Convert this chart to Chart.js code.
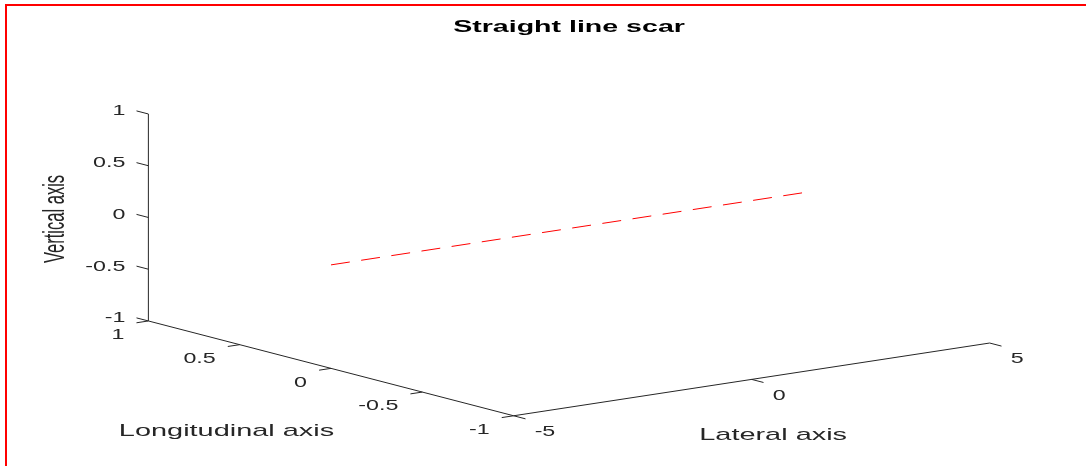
<!DOCTYPE html>
<html lang="en">
<head>
    <meta charset="UTF-8">
    <title>Straight line scar</title>
    <script src="https://cdn.jsdelivr.net/npm/chart.js"></script>
    <style>
        html, body {
            margin: 0;
            padding: 0;
            background: #ffffff;
            overflow: hidden;
        }

        .wrap {
            position: absolute;
            left: 0;
            top: 0;
            width: 1086px;
            height: 466px;
        }

        /* red frame, only left and top edges are visible */
        .frame {
            position: absolute;
            left: 5px;
            top: 4px;
            width: 1200px;
            height: 600px;
            border-left: 2px solid #ff0000;
            border-top: 2px solid #ff0000;
            pointer-events: none;
        }
    </style>
</head>
<body>
    <div class="wrap"><canvas id="scarChart"></canvas></div>
    <div class="frame"></div>

    <script>
        // axis limits (lateral = x, longitudinal = y, vertical = z)
        const latLim = [-5, 5];
        const lonLim = [-1, 1];
        const vertLim = [-1, 1];

        // tick values
        const latTicks = [-5, 0, 5];
        const lonTicks = [1, 0.5, 0, -0.5, -1];
        const vertTicks = [-1, -0.5, 0, 0.5, 1];

        // scar line
        const scarLat = [-5, 5];
        const scarLon = [0, 0];
        const scarVert = [0, 0];

        // view, same as matlab view(3)
        const az = -37.5 * Math.PI / 180;
        const el = 30 * Math.PI / 180;

        function norm(v, lim) {
            return 2 * (v - lim[0]) / (lim[1] - lim[0]) - 1;
        }

        // 3d -> 2d projection, the chart scales do the rest
        function project(lat, lon, vert) {
            const xn = norm(lat, latLim);
            const yn = norm(lon, lonLim);
            const zn = norm(vert, vertLim);
            return {
                x: Math.cos(az) * xn + Math.sin(az) * yn,
                y: -Math.sin(el) * Math.sin(az) * xn + Math.sin(el) * Math.cos(az) * yn + Math.cos(el) * zn
            };
        }

        const axisColor = '#262626';

        function segment(a, b) {
            return {
                data: [project(a[0], a[1], a[2]), project(b[0], b[1], b[2])],
                showLine: true,
                borderColor: axisColor,
                borderWidth: 1,
                pointRadius: 0,
                fill: false
            };
        }

        const datasets = [];
        // box edges
        datasets.push(segment([latLim[0], lonLim[1], vertLim[0]], [latLim[0], lonLim[1], vertLim[1]]));
        datasets.push(segment([latLim[0], lonLim[1], vertLim[0]], [latLim[0], lonLim[0], vertLim[0]]));
        datasets.push(segment([latLim[0], lonLim[0], vertLim[0]], [latLim[1], lonLim[0], vertLim[0]]));

        // ticks
        const lonTickLen = 0.065 * (lonLim[1] - lonLim[0]) / 2;
        const latTickLen = 0.05 * (latLim[1] - latLim[0]) / 2;
        vertTicks.forEach(t => {
            datasets.push(segment([latLim[0], lonLim[1], t], [latLim[0], lonLim[1] + lonTickLen, t]));
        });
        lonTicks.forEach(t => {
            datasets.push(segment([latLim[0], t, vertLim[0]], [latLim[0] - latTickLen, t, vertLim[0]]));
        });
        latTicks.forEach(t => {
            datasets.push(segment([t, lonLim[0], vertLim[0]], [t, lonLim[0] - lonTickLen, vertLim[0]]));
        });

        // the scar itself
        datasets.push({
            data: scarLat.map((v, i) => project(v, scarLon[i], scarVert[i])),
            showLine: true,
            borderColor: '#ff0000',
            borderWidth: 1,
            borderDash: [19, 11.5],
            pointRadius: 0,
            fill: false
        });

        // figure text is stretched sideways like the exported figure
        const fontFamily = "'Liberation Sans', Arial, sans-serif";

        function fmt(v) {
            return String(v);
        }

        const textPlugin = {
            id: 'axisText',
            afterDatasetsDraw(chart) {
                const ctx = chart.ctx;
                const sx = chart.scales.x;
                const sy = chart.scales.y;
                const pix = p => [sx.getPixelForValue(p.x), sy.getPixelForValue(p.y)];

                function put(text, pos, dx, dy, align, font, stretch, color, rotate) {
                    ctx.save();
                    ctx.translate(pos[0] + dx, pos[1] + dy);
                    ctx.scale(stretch, 1);
                    if (rotate) ctx.rotate(-Math.PI / 2);
                    ctx.font = font;
                    ctx.fillStyle = color;
                    ctx.textAlign = align;
                    ctx.textBaseline = 'middle';
                    ctx.fillText(text, 0, 0);
                    ctx.restore();
                }

                const tickFont = '14px ' + fontFamily;
                const labelFont = '17px ' + fontFamily;

                vertTicks.forEach(t => {
                    put(fmt(t), pix(project(latLim[0], lonLim[1], t)), -23, -2.5, 'right', tickFont, 1.66, axisColor);
                });
                lonTicks.forEach(t => {
                    put(fmt(t), pix(project(latLim[0], t, vertLim[0])), -24, 14.5, 'right', tickFont, 1.66, axisColor);
                });
                latTicks.forEach(t => {
                    put(fmt(t), pix(project(t, lonLim[0], vertLim[0])), 21, 16.5, 'left', tickFont, 1.66, axisColor);
                });

                // axis titles
                put('Vertical axis', pix(project(latLim[0], lonLim[1], 0)), -92, 1.5, 'center', '16.5px ' + fontFamily, 1.75, axisColor, true);
                put('Longitudinal axis', pix(project(latLim[0], 0, vertLim[0])), -104.5, 63, 'center', labelFont, 1.7, axisColor);
                put('Lateral axis', pix(project(0, lonLim[0], vertLim[0])), 21.5, 56, 'center', labelFont, 1.7, axisColor);

                // title
                put('Straight line scar', [sx.getPixelForValue(0), 27], 0, 0, 'center', 'bold 17px ' + fontFamily, 1.68, '#000000');
            }
        };

        const config = {
            type: 'scatter',
            data: { datasets: datasets },
            options: {
                responsive: true,
                maintainAspectRatio: false,
                animation: false,
                layout: { padding: 0 },
                scales: {
                    x: { type: 'linear', display: false, min: -1.8967, max: 1.7233 },
                    y: { type: 'linear', display: false, min: -1.9874, max: 1.9121 }
                },
                plugins: {
                    legend: { display: false },
                    tooltip: { enabled: false },
                    title: { display: false }
                }
            },
            plugins: [textPlugin]
        };

        const scarChart = new Chart(document.getElementById('scarChart').getContext('2d'), config);
    </script>
</body>
</html>
